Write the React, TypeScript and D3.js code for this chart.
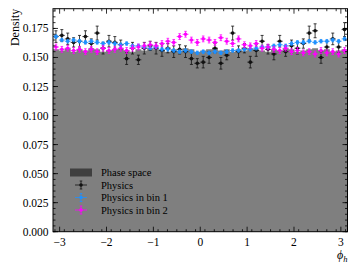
import React, { useEffect, useRef } from 'react';
import * as d3 from 'd3';

// 50 bins in phi_h over [-pi, pi]
const phaseSpace = [
  0.157, 0.156, 0.158, 0.155, 0.157, 0.156, 0.158, 0.157, 0.155, 0.156,
  0.157, 0.158, 0.156, 0.155, 0.157, 0.156, 0.158, 0.157, 0.156, 0.155,
  0.157, 0.156, 0.158, 0.157, 0.155, 0.156, 0.157, 0.158, 0.156, 0.157,
  0.155, 0.157, 0.156, 0.158, 0.157, 0.156, 0.155, 0.157, 0.156, 0.158,
  0.157, 0.155, 0.156, 0.157, 0.158, 0.156, 0.157, 0.155, 0.156, 0.157,
];

const physics = [
  0.168, 0.169, 0.166, 0.163, 0.164, 0.168, 0.162, 0.171, 0.158, 0.164,
  0.163, 0.161, 0.149, 0.158, 0.148, 0.158, 0.160, 0.158, 0.156, 0.158,
  0.155, 0.157, 0.155, 0.149, 0.145, 0.146, 0.150, 0.158, 0.145, 0.152,
  0.171, 0.155, 0.158, 0.146, 0.156, 0.164, 0.157, 0.153, 0.164, 0.155,
  0.160, 0.158, 0.162, 0.171, 0.173, 0.150, 0.159, 0.166, 0.159, 0.174,
];
const physicsErr = [
  0.005, 0.005, 0.005, 0.004, 0.005, 0.005, 0.004, 0.006, 0.005, 0.005,
  0.005, 0.004, 0.005, 0.005, 0.004, 0.005, 0.004, 0.005, 0.005, 0.004,
  0.005, 0.004, 0.005, 0.005, 0.004, 0.005, 0.005, 0.004, 0.005, 0.004,
  0.006, 0.005, 0.004, 0.005, 0.005, 0.005, 0.004, 0.005, 0.005, 0.004,
  0.005, 0.005, 0.004, 0.006, 0.006, 0.005, 0.005, 0.005, 0.005, 0.006,
];

const bin1 = [
  0.168, 0.165, 0.164, 0.165, 0.164, 0.163, 0.164, 0.163, 0.162, 0.163,
  0.162, 0.161, 0.162, 0.160, 0.160, 0.159, 0.158, 0.159, 0.157, 0.157,
  0.156, 0.155, 0.156, 0.155, 0.154, 0.155, 0.154, 0.155, 0.154, 0.155,
  0.156, 0.156, 0.157, 0.157, 0.158, 0.159, 0.159, 0.160, 0.161, 0.160,
  0.162, 0.163, 0.163, 0.164, 0.163, 0.164, 0.164, 0.165, 0.164, 0.166,
];
const bin1Err = 0.0015;

const bin2 = [
  0.159, 0.157, 0.158, 0.156, 0.157, 0.155, 0.157, 0.155, 0.158, 0.156,
  0.157, 0.158, 0.156, 0.158, 0.159, 0.160, 0.161, 0.160, 0.162, 0.164,
  0.163, 0.168, 0.170, 0.165, 0.163, 0.166, 0.165, 0.163, 0.167, 0.164,
  0.162, 0.166, 0.161, 0.160, 0.162, 0.158, 0.159, 0.157, 0.156, 0.158,
  0.155, 0.156, 0.154, 0.155, 0.153, 0.156, 0.154, 0.155, 0.153, 0.156,
];
const bin2Err = 0.0025;

const yTicks = [0, 0.025, 0.05, 0.075, 0.1, 0.125, 0.15, 0.175];
const xTicks = [-3, -2, -1, 0, 1, 2, 3];
const legendLabels = ['Phase space', 'Physics', 'Physics in bin 1', 'Physics in bin 2'];

const width = 357;
const height = 269;

export default function App() {
  const svgRef = useRef<SVGSVGElement | null>(null);

  useEffect(() => {
    document.body.style.margin = '0';
    if (!svgRef.current) return;
    const svg = d3.select(svgRef.current);
    svg.selectAll('*').remove();

    const margin = { top: 8.7, right: 9.5, bottom: 37.3, left: 53 };
    const innerWidth = width - margin.left - margin.right;
    const innerHeight = height - margin.top - margin.bottom;
    const font = '"Liberation Serif", "Times New Roman", serif';

    const x = d3.scaleLinear().domain([-Math.PI, Math.PI]).range([0, innerWidth]);
    const y = d3.scaleLinear().domain([0, 0.192]).range([innerHeight, 0]);

    const nBins = phaseSpace.length;
    const edges = d3.range(nBins + 1).map(i => -Math.PI + (i * 2 * Math.PI) / nBins);
    const centers = d3.range(nBins).map(i => (edges[i] + edges[i + 1]) / 2);

    const g = svg.append('g').attr('transform', `translate(${margin.left},${margin.top})`);

    // Phase space histogram (step filled)
    const area = d3
      .area<number>()
      .curve(d3.curveStepAfter)
      .x(d => x(edges[d]))
      .y0(y(0))
      .y1(d => y(phaseSpace[Math.min(d, nBins - 1)]));
    g.append('path')
      .datum(d3.range(nBins + 1))
      .attr('d', area)
      .attr('fill', 'rgba(0,0,0,0.5)');

    const half = (edges[1] - edges[0]) / 2;
    const drawSeries = (vals: number[], errs: number[] | number, color: string, cap: number) => {
      const s = g.append('g');
      vals.forEach((v, i) => {
        const e = typeof errs === 'number' ? errs : errs[i];
        const cx = x(centers[i]);
        s.append('line')
          .attr('x1', x(centers[i] - half)).attr('x2', x(centers[i] + half))
          .attr('y1', y(v)).attr('y2', y(v))
          .attr('stroke', color).attr('stroke-width', 0.8);
        s.append('line')
          .attr('x1', cx).attr('x2', cx)
          .attr('y1', y(v - e)).attr('y2', y(v + e))
          .attr('stroke', color).attr('stroke-width', 0.8);
        [v - e, v + e].forEach(t => {
          s.append('line')
            .attr('x1', cx - cap).attr('x2', cx + cap)
            .attr('y1', y(t)).attr('y2', y(t))
            .attr('stroke', color).attr('stroke-width', 0.8);
        });
        s.append('circle').attr('cx', cx).attr('cy', y(v)).attr('r', 1.8).attr('fill', color);
      });
    };
    drawSeries(physics, physicsErr, '#111111', 1.5);
    drawSeries(bin1, bin1Err, '#1e90ff', 1.3);
    drawSeries(bin2, bin2Err, '#ff00ff', 1.3);

    // Ticks on all four sides, pointing inwards
    const xMinor = d3.range(-31, 32, 2).map(v => v / 10).filter(v => Math.abs(v) <= Math.PI);
    const yMinor = d3.range(0, 0.1901, 0.005);
    const tickG = g.append('g').attr('stroke', '#000').attr('stroke-width', 0.8);
    const addX = (vals: number[], len: number) => vals.forEach(v => {
      tickG.append('line').attr('x1', x(v)).attr('x2', x(v)).attr('y1', innerHeight).attr('y2', innerHeight - len);
      tickG.append('line').attr('x1', x(v)).attr('x2', x(v)).attr('y1', 0).attr('y2', len);
    });
    const addY = (vals: number[], len: number) => vals.forEach(v => {
      tickG.append('line').attr('y1', y(v)).attr('y2', y(v)).attr('x1', 0).attr('x2', len);
      tickG.append('line').attr('y1', y(v)).attr('y2', y(v)).attr('x1', innerWidth).attr('x2', innerWidth - len);
    });
    addX(xMinor, 2.5);
    addX(xTicks, 5);
    addY(yMinor, 2.5);
    addY(yTicks, 5);

    g.append('rect')
      .attr('width', innerWidth).attr('height', innerHeight)
      .attr('fill', 'none').attr('stroke', '#000').attr('stroke-width', 1);

    // Tick labels
    g.selectAll('.xl').data(xTicks).enter().append('text')
      .attr('x', d => x(d)).attr('y', innerHeight + 14.5)
      .attr('text-anchor', 'middle').attr('font-family', font).attr('font-size', 11.5)
      .text(d => d3.format('')(d).replace('-', '\u2212'));
    g.selectAll('.yl').data(yTicks).enter().append('text')
      .attr('x', -4.5).attr('y', d => y(d) + 4)
      .attr('text-anchor', 'end').attr('font-family', font).attr('font-size', 11.5)
      .text(d => d3.format('.3f')(d));

    // Axis labels
    svg.append('text')
      .attr('transform', `translate(19,${margin.top}) rotate(-90)`)
      .attr('text-anchor', 'end').attr('font-family', font).attr('font-size', 12)
      .text('Density');
    const xl = svg.append('text')
      .attr('x', margin.left + innerWidth).attr('y', 259)
      .attr('text-anchor', 'end').attr('font-family', font).attr('font-size', 12);
    xl.append('tspan').attr('font-style', 'italic').text('\u03d5');
    xl.append('tspan').attr('font-style', 'italic').attr('font-size', 8.5).attr('dy', 2.5).text('h');

    // Legend
    const lx = 81 - margin.left;
    const ly = [172.5, 185, 197.5, 210].map(v => v - margin.top);
    const leg = g.append('g');
    leg.append('rect').attr('x', lx - 11).attr('y', ly[0] - 4).attr('width', 22).attr('height', 8)
      .attr('fill', 'rgba(0,0,0,0.5)');
    const legColors = ['#111111', '#1e90ff', '#ff00ff'];
    legColors.forEach((c, i) => {
      const cy = ly[i + 1];
      leg.append('line').attr('x1', lx - 6).attr('x2', lx + 6).attr('y1', cy).attr('y2', cy).attr('stroke', c).attr('stroke-width', 0.8);
      leg.append('line').attr('x1', lx).attr('x2', lx).attr('y1', cy - 4).attr('y2', cy + 4).attr('stroke', c).attr('stroke-width', 0.8);
      [cy - 4, cy + 4].forEach(t => leg.append('line').attr('x1', lx - 1.3).attr('x2', lx + 1.3).attr('y1', t).attr('y2', t).attr('stroke', c).attr('stroke-width', 0.8));
      leg.append('circle').attr('cx', lx).attr('cy', cy).attr('r', 1.8).attr('fill', c);
    });
    legendLabels.forEach((t, i) => {
      leg.append('text').attr('x', 101 - margin.left).attr('y', ly[i] + 3.8)
        .attr('font-family', font).attr('font-size', 10.5).attr('fill', '#000').text(t);
    });
  }, []);

  return (
    <svg
      ref={svgRef}
      width={width}
      height={height}
      style={{ position: 'absolute', left: 0, top: 0, background: '#fff' }}
    />
  );
}
